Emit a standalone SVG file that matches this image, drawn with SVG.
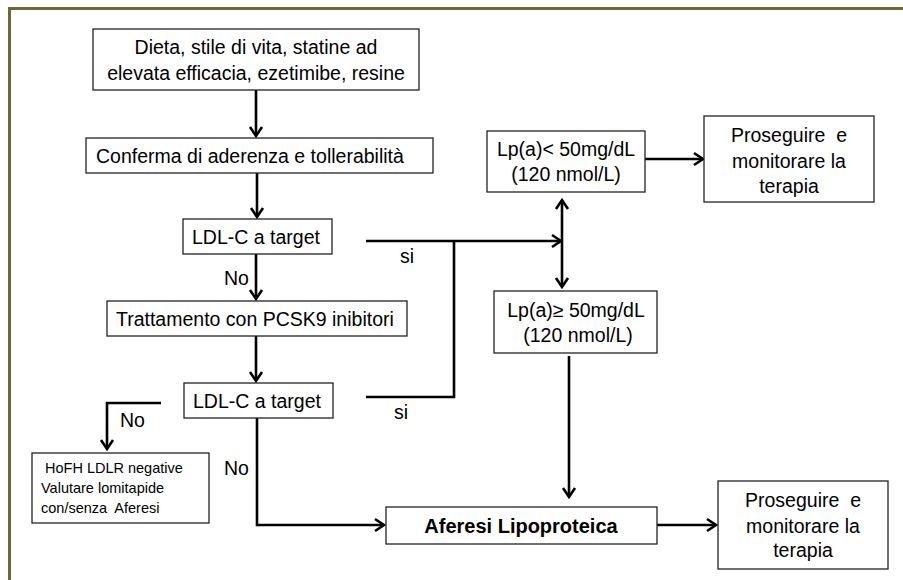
<svg xmlns="http://www.w3.org/2000/svg" width="903" height="580" viewBox="0 0 903 580">
<style>
.box{fill:#fff;stroke:#222;stroke-width:1.3}
.t{font-family:"Liberation Sans",Arial,sans-serif;font-size:19.5px;fill:#000;white-space:pre}
.s{font-size:14.5px}
.b{font-weight:bold;font-size:20px}
.m{text-anchor:middle}
.c{fill:none;stroke:#000;stroke-width:2.6}
.frame{fill:none;stroke:#6b6a35;stroke-width:3}
</style>
<defs>
<marker id="ah" markerUnits="userSpaceOnUse" markerWidth="14" markerHeight="16" refX="11" refY="7" orient="auto-start-reverse" viewBox="0 0 14 14">
<path d="M2,1 L11,7 L2,13" fill="none" stroke="#000" stroke-width="2.6"/>
</marker>
</defs>
<rect width="903" height="580" fill="#fff"/>
<path class="frame" d="M9.5,580 V8.5 H903"/>
<g id="connectors">
<line class="c" x1="256" y1="90" x2="256" y2="136" marker-end="url(#ah)"/>
<line class="c" x1="257" y1="173" x2="257" y2="217" marker-end="url(#ah)"/>
<line class="c" x1="256" y1="254" x2="256" y2="299" marker-end="url(#ah)"/>
<line class="c" x1="256" y1="336" x2="256" y2="381" marker-end="url(#ah)"/>
<line class="c" x1="366" y1="241" x2="561" y2="241" marker-end="url(#ah)"/>
<polyline class="c" points="366,397 454,397 454,241"/>
<line class="c" x1="562" y1="200" x2="562" y2="287" marker-start="url(#ah)" marker-end="url(#ah)"/>
<line class="c" x1="645" y1="159" x2="703" y2="159" marker-end="url(#ah)"/>
<line class="c" x1="569" y1="356" x2="569" y2="497" marker-end="url(#ah)"/>
<polyline class="c" points="257,418 257,525 384,525" marker-end="url(#ah)"/>
<line class="c" x1="657" y1="525" x2="716" y2="525" marker-end="url(#ah)"/>
<polyline class="c" points="161,403 107,403 107,449" marker-end="url(#ah)"/>
<text class="t" x="400" y="263">si</text>
<text class="t" x="394" y="419">si</text>
<text class="t" x="224" y="285">No</text>
<text class="t" x="120" y="427">No</text>
<text class="t" x="224" y="475">No</text>
</g>
<g id="n1">
<rect class="box" x="93" y="29" width="326" height="61"/>
<text class="t m" x="256" y="54">Dieta, stile di vita, statine ad</text>
<text class="t m" x="256" y="80">elevata efficacia, ezetimibe, resine</text>
</g>
<g id="n2">
<rect class="box" x="86" y="138" width="347" height="35"/>
<text class="t" x="96" y="163">Conferma di aderenza e tollerabilità</text>
</g>
<g id="n3">
<rect class="box" x="183" y="219" width="149" height="35"/>
<text class="t" x="192" y="244">LDL-C a target</text>
</g>
<g id="n4">
<rect class="box" x="107" y="301" width="300" height="35"/>
<text class="t" x="116" y="326">Trattamento con PCSK9 inibitori</text>
</g>
<g id="n5">
<rect class="box" x="184" y="383" width="149" height="35"/>
<text class="t" x="193" y="408">LDL-C a target</text>
</g>
<g id="n6">
<rect class="box" x="487" y="131" width="158" height="61"/>
<text class="t m" x="566" y="156">Lp(a)&lt; 50mg/dL</text>
<text class="t m" x="566" y="181">(120 nmol/L)</text>
</g>
<g id="n7">
<rect class="box" x="704" y="116" width="170" height="86"/>
<text class="t m" x="789" y="142" xml:space="preserve">Proseguire  e</text>
<text class="t m" x="789" y="168">monitorare la</text>
<text class="t m" x="789" y="193">terapia</text>
</g>
<g id="n8">
<rect class="box" x="494" y="291" width="163" height="62"/>
<text class="t m" x="576" y="317">Lp(a)≥ 50mg/dL</text>
<text class="t m" x="578" y="342">(120 nmol/L)</text>
</g>
<g id="n9">
<rect class="box" x="32" y="453" width="177" height="70"/>
<text class="t s" x="45" y="473">HoFH LDLR negative</text>
<text class="t s" x="41" y="493">Valutare lomitapide</text>
<text class="t s" x="41" y="513" xml:space="preserve">con/senza  Aferesi</text>
</g>
<g id="n10">
<rect class="box" x="386" y="507" width="271" height="37"/>
<text class="t b m" x="521" y="533">Aferesi Lipoproteica</text>
</g>
<g id="n11">
<rect class="box" x="718" y="481" width="170" height="88"/>
<text class="t m" x="803" y="507" xml:space="preserve">Proseguire  e</text>
<text class="t m" x="803" y="533">monitorare la</text>
<text class="t m" x="803" y="557">terapia</text>
</g>
</svg>
